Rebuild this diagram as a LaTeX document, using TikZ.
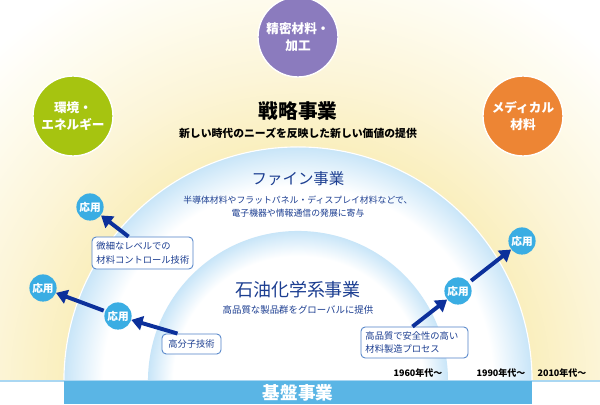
\documentclass[tikz,border=0pt]{standalone}
\usepackage{fontspec}
\setmainfont{Noto Sans CJK JP}
\usetikzlibrary{arrows.meta,calc,positioning}

\definecolor{glowyellow}{RGB}{250,239,190}
\definecolor{glowmid}{RGB}{252,245,216}
\definecolor{glowfaint}{RGB}{254,251,236}
\definecolor{edgeblue}{RGB}{200,229,248}
\definecolor{appblue}{RGB}{58,173,227}
\definecolor{arrowblue}{RGB}{12,48,155}
\definecolor{boxblue}{RGB}{80,130,200}
\definecolor{textblue}{RGB}{28,62,145}
\definecolor{barblue}{RGB}{90,181,229}
\definecolor{lineblue}{RGB}{170,215,242}
\definecolor{purplefield}{RGB}{139,123,190}
\definecolor{greenfield}{RGB}{166,196,16}
\definecolor{orangefield}{RGB}{237,133,52}

% 25bp is the rim of the shaded circle
\pgfdeclareradialshading{outerglow}{\pgfpoint{0bp}{0bp}}{color(0bp)=(glowyellow); color(13bp)=(glowyellow); color(17bp)=(glowmid); color(21bp)=(glowfaint); color(25bp)=(white); color(50bp)=(white)}
\pgfdeclareradialshading{rimglow}{\pgfpoint{0bp}{0bp}}{color(0bp)=(white); color(20.8bp)=(white); color(25bp)=(edgeblue); color(50bp)=(edgeblue)}

\tikzset{
	field/.style={circle, minimum size=2cm, inner sep=0pt, draw=white, line width=1pt,
			text=white, align=center, font=\fontsize{9}{12}\selectfont\bfseries},
	apply/.style={circle, fill=appblue, minimum size=0.68cm, inner sep=0pt,
			text=white, font=\fontsize{7.6}{8}\selectfont\bfseries},
	tech/.style={draw=boxblue, fill=white, rounded corners=3pt, line width=0.6pt,
			text=textblue, align=left, inner sep=0pt, font=\fontsize{6.6}{9.5}\selectfont},
	growth/.style={draw=arrowblue, line width=2.8pt, -{Triangle[length=8pt,width=10pt]}},
	decade/.style={font=\fontsize{6.4}{7}\selectfont\bfseries, inner sep=0pt}
}

\begin{document}
\begin{tikzpicture}[x=0.025cm, y=-0.025cm]

	\useasboundingbox (0,0) rectangle (600,405);

	% Glow of the business fields
	\begin{scope}
		\clip (0,0) rectangle (600,381);
		\shade[shading=outerglow] (298,381) circle[radius=11.25cm];
		\shade[shading=rimglow, draw=white, line width=0.8pt] (298,381) circle[radius=5.85cm];
		\shade[shading=rimglow] (298,381) circle[radius=3.75cm];
	\end{scope}

	% Base line and base business
	\draw[lineblue, line width=1.4pt] (0,381) -- (600,381);
	\node[fill=barblue, minimum width=11.7cm, minimum height=0.575cm, inner sep=0pt,
		text=white, font=\fontsize{12.5}{13}\selectfont\bfseries] (base) at (298,392.5) {基盤事業};

	% Strategic fields
	\node[field, fill=purplefield] (precision) at (298,37) {精密材料・\\加工};
	\node[field, fill=greenfield] (energy) at (73,116) {環境・\\エネルギー};
	\node[field, fill=orangefield] (medical) at (523,116) {メディカル\\材料};

	% Business titles
	\node[font=\fontsize{14}{15}\selectfont\bfseries] (strategic) at (298,111) {戦略事業};
	\node[font=\fontsize{7.7}{9}\selectfont\bfseries] (strategicsub) at (298,133) {新しい時代のニーズを反映した新しい価値の提供};
	\node[text=textblue, font=\fontsize{11}{12}\selectfont] (fine) at (298,179) {ファイン事業};
	\node[text=textblue, align=center, font=\fontsize{6.3}{9.3}\selectfont] (finesub) at (298,207) {半導体材料やフラットパネル・ディスプレイ材料などで、\\電子機器や情報通信の発展に寄与};
	\node[text=textblue, font=\fontsize{12.8}{14}\selectfont] (petro) at (298,290) {石油化学系事業};
	\node[text=textblue, font=\fontsize{6.7}{8}\selectfont] (petrosub) at (298,310) {高品質な製品群をグローバルに提供};

	% Applications
	\node[apply] (app1) at (90,207) {応用};
	\node[apply] (app2) at (43,288) {応用};
	\node[apply] (app3) at (118,316) {応用};
	\node[apply] (app4) at (458,291) {応用};
	\node[apply] (app5) at (522,241) {応用};

	% Core technologies
	\node[tech, minimum width=2.525cm, minimum height=0.8cm, text width=2.3cm] (micro) at (142.5,253) {微細なレベルでの\\材料コントロール技術};
	\node[tech, minimum width=1.475cm, minimum height=0.5cm, align=center] (polymer) at (191.5,344) {高分子技術};
	\node[tech, minimum width=2.675cm, minimum height=0.775cm, text width=2.45cm] (process) at (414.5,342.5) {高品質で安全性の高い\\材料製造プロセス};

	% Growth arrows
	\draw[growth] ($(micro.north)+(-14,0)$) -- (app1);
	\draw[growth] ($(polymer.north)+(-14,0)$) -- (app3);
	\draw[growth, shorten <=1pt] (app3) -- (app2);
	\draw[growth] ($(process.north)+(-2,0)$) -- (app4);
	\draw[growth, shorten <=2pt] (app4) -- (app5);

	% Decades
	\node[decade] (d1960) at (418,373) {1960年代〜};
	\node[decade] (d1990) at (501,373) {1990年代〜};
	\node[decade] (d2010) at (562,373) {2010年代〜};

\end{tikzpicture}
\end{document}
